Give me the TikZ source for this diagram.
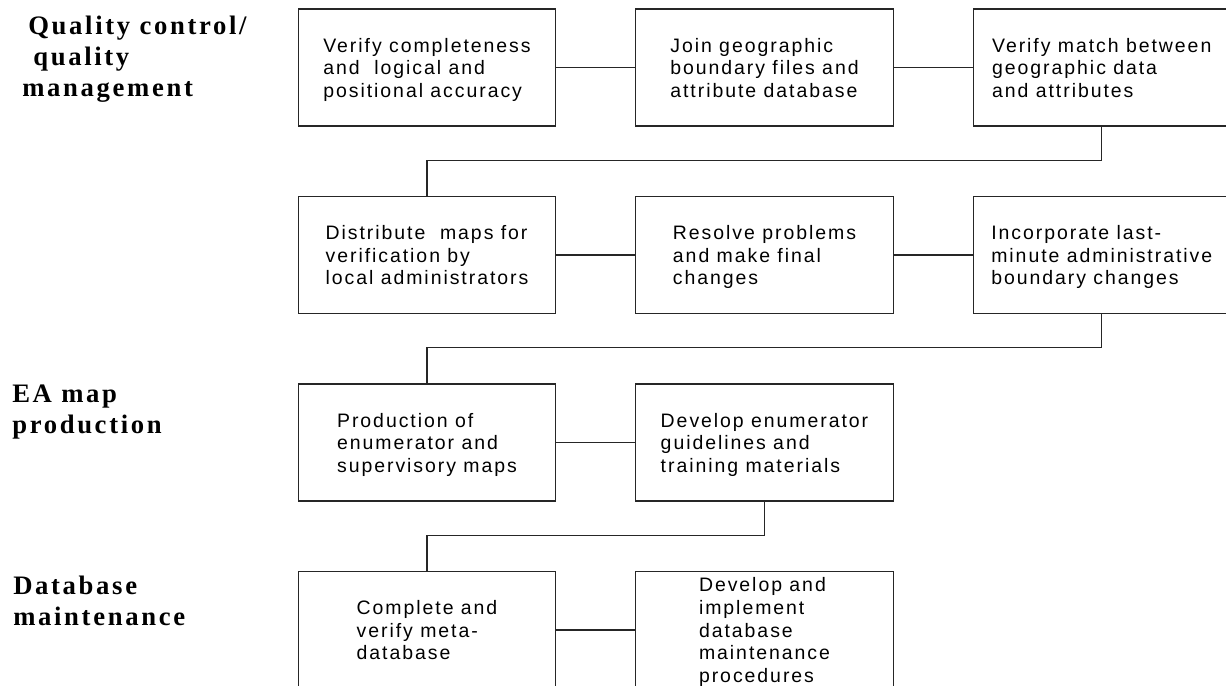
\documentclass[tikz,border=0pt]{standalone}
\usepackage{fontspec}
\newfontfamily\gisBoxFont[LetterSpace=10]{Liberation Sans}
\newfontfamily\gisPhaseFont[LetterSpace=10]{Liberation Serif}

\begin{document}
\begin{tikzpicture}[
                x=0.75pt,
                y=-0.75pt,
                gisStage/.style={draw=black!85,line width=0.8pt,
                                 minimum width=193.1pt,minimum height=87.75pt,
                                 inner sep=0pt,align=left,text depth=-7pt,
                                 font=\gisBoxFont\fontsize{14.6pt}{16.9pt}\selectfont},
                gisPhase/.style={anchor=base west,inner sep=0pt,align=left,
                                 font=\gisPhaseFont\bfseries\fontsize{20pt}{22.9pt}\selectfont},
                gisLink/.style={draw=black!85,line width=0.8pt}]
                \useasboundingbox (0,0) rectangle (1226,685);

                % Phase headings down the left margin (anchored on their last line).
                \node[gisPhase] (qcPhase) at (22,96) {\hspace{4.5pt}Quality control/\\\hspace{8.25pt}quality\\management};
                \node[gisPhase] (eaPhase) at (12,433) {EA map\\production};
                \node[gisPhase] (dbPhase) at (13,625) {Database\\maintenance};


                % First row: checks on the boundary files.
                \node[gisStage] (vComp) at (427,67.5) {Verify completeness\\and~ logical and\\positional accuracy};
                \node[gisStage] (joinG) at (764.5,67.5) {Join geographic\\boundary files and\\attribute database};
                \node[gisStage] (vMatch) at (1101.75,67.5) {Verify match between\\geographic data\\and attributes};
                \draw[gisLink] (vComp)--(joinG) (joinG)--(vMatch);


                % Second row: local review and last changes.
                \node[gisStage] (distM) at (427,255) {Distribute~ maps for\\verification by\\local administrators};
                \node[gisStage] (resP) at (764.5,255) {Resolve problems\\and make final\\changes};
                \node[gisStage] (incB) at (1101.75,255) {Incorporate last-\\minute administrative\\boundary changes};
                \draw[gisLink] (distM)--(resP) (resP)--(incB);
                \draw[gisLink] (vMatch.south) -- ++(0,33.5) -| (distM.north);


                % Third row: EA maps and enumerator material.
                \node[gisStage] (prodM) at (427,442.5) {Production of\\enumerator and\\supervisory maps};
                \node[gisStage] (devG) at (764.5,442.5) {Develop enumerator\\guidelines and\\training materials};
                \draw[gisLink] (prodM)--(devG);
                \draw[gisLink] (incB.south) -- ++(0,33.5) -| (prodM.north);


                % Fourth row: upkeep of the database.
                \node[gisStage] (compM) at (427,630) {Complete and\\verify meta-\\database};
                \node[gisStage] (devM) at (764.5,630) {Develop and\\implement\\database\\maintenance\\procedures};
                \draw[gisLink] (compM)--(devM);
                \draw[gisLink] (devG.south) -- ++(0,33.5) -| (compM.north);

            \end{tikzpicture}
\end{document}
